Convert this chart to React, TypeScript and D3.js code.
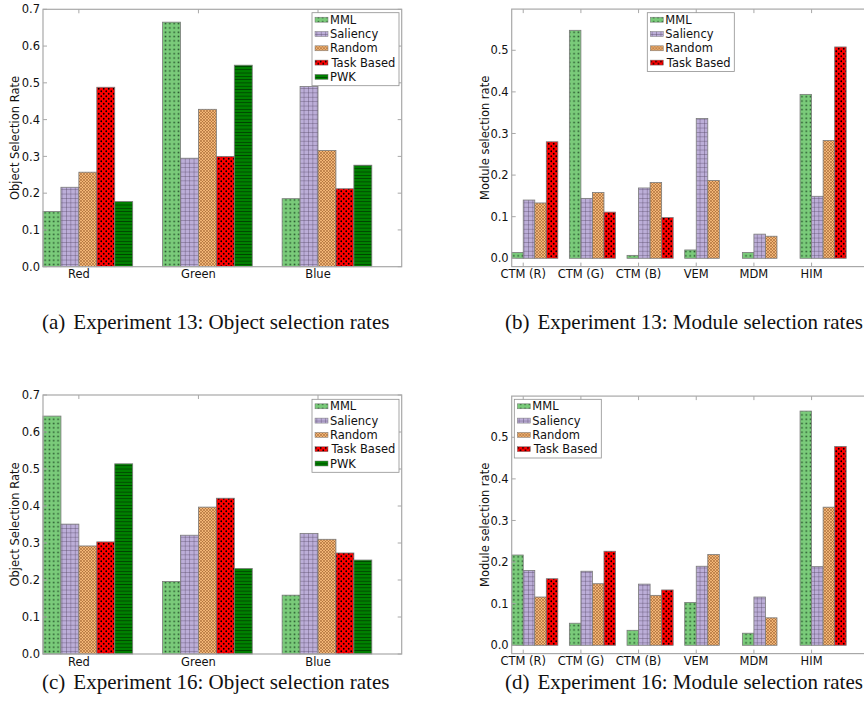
import React from "react";
import * as d3 from "d3";

// ---- categories ----
const colourGroups = ["Red", "Green", "Blue"];
const moduleGroups = ["CTM (R)", "CTM (G)", "CTM (B)", "VEM", "MDM", "HIM", ""];
const objectSeries = ["MML", "Saliency", "Random", "Task Based", "PWK"];
const moduleSeries = ["MML", "Saliency", "Random", "Task Based"];

// ---- Experiment 13: object selection rates ----
const exp13ObjMML = [0.150, 0.665, 0.185];
const exp13ObjSaliency = [0.216, 0.295, 0.490];
const exp13ObjRandom = [0.257, 0.428, 0.316];
const exp13ObjTask = [0.488, 0.300, 0.212];
const exp13ObjPWK = [0.177, 0.548, 0.276];

// ---- Experiment 13: module selection rates ----
const exp13ModMML = [0.014, 0.548, 0.007, 0.020, 0.014, 0.394, 0];
const exp13ModSaliency = [0.140, 0.144, 0.169, 0.336, 0.058, 0.149, 0];
const exp13ModRandom = [0.133, 0.158, 0.182, 0.187, 0.053, 0.283, 0];
const exp13ModTask = [0.280, 0.111, 0.098, 0, 0, 0.508, 0];

// ---- Experiment 16: object selection rates ----
const exp16ObjMML = [0.643, 0.196, 0.159];
const exp16ObjSaliency = [0.351, 0.321, 0.326];
const exp16ObjRandom = [0.292, 0.397, 0.310];
const exp16ObjTask = [0.303, 0.421, 0.273];
const exp16ObjPWK = [0.514, 0.231, 0.254];

// ---- Experiment 16: module selection rates ----
const exp16ModMML = [0.217, 0.053, 0.036, 0.103, 0.029, 0.563, 0];
const exp16ModSaliency = [0.180, 0.178, 0.147, 0.190, 0.116, 0.189, 0];
const exp16ModRandom = [0.116, 0.148, 0.120, 0.218, 0.066, 0.332, 0];
const exp16ModTask = [0.160, 0.226, 0.133, 0, 0, 0.478, 0];

// ---- tick values ----
const objectTicks = [0, 0.1, 0.2, 0.3, 0.4, 0.5, 0.6, 0.7];
const moduleTicks = [0, 0.1, 0.2, 0.3, 0.4, 0.5];

const patternIds = ["patMML", "patSal", "patRand", "patTask", "patPWK"];

const SANS = "'DejaVu Sans', sans-serif";
const SERIF = "'Liberation Serif', 'Times New Roman', serif";
const SPINE = "#a8a8a8";
const EDGE = "#7a7a7a";
const FS = 11.5;

function Patterns() {
  return (
    <defs>
      <pattern id="patMML" patternUnits="userSpaceOnUse" width={4.3} height={4.3}>
        <rect width={4.3} height={4.3} fill="#7acb7a" />
        <rect x={1.4} y={1.4} width={1.5} height={1.5} fill="#24502a" />
      </pattern>
      <pattern id="patSal" patternUnits="userSpaceOnUse" width={4.4} height={4.4}>
        <rect width={4.4} height={4.4} fill="#bcaed8" />
        <path d="M0,0 H4.4 M0,0 V4.4" stroke="#4e4260" strokeWidth={0.7} />
      </pattern>
      <pattern id="patRand" patternUnits="userSpaceOnUse" width={3} height={3}>
        <rect width={3} height={3} fill="#f2b677" />
        <path d="M0,0 L3,3 M3,0 L0,3" stroke="#9c5e2c" strokeWidth={0.55} />
      </pattern>
      <pattern id="patTask" patternUnits="userSpaceOnUse" width={5} height={5}>
        <rect width={5} height={5} fill="#ff0000" />
        <circle cx={1.25} cy={1.25} r={0.9} fill="#000" />
        <circle cx={3.75} cy={3.75} r={0.9} fill="#000" />
      </pattern>
      <pattern id="patPWK" patternUnits="userSpaceOnUse" width={4} height={3.3}>
        <rect width={4} height={3.3} fill="#008000" />
        <path d="M0,0.4 H4" stroke="#003800" strokeWidth={0.8} />
      </pattern>
    </defs>
  );
}

type PanelProps = {
  cats: string[];
  names: string[];
  values: number[][];
  xRange: [number, number];
  xMax: number;
  yRange: [number, number];
  yDomain: [number, number];
  barW: number;
  tickOff: number;
  yTicks: number[];
  yLabel: string;
  yLabelX: number;
  legendBox: { x: number; y: number; w: number };
  caption: string;
  captionTag: string;
  captionX: number;
  captionY: number;
};

function Panel(p: PanelProps) {
  const x = d3.scaleLinear().domain([0, p.xMax]).range(p.xRange);
  const y = d3.scaleLinear().domain(p.yDomain).range(p.yRange);
  const fmt = d3.format(".1f");
  const bw = x(p.barW) - x(0);
  const [left, right] = p.xRange;
  const [bottom, top] = p.yRange;
  const tickLen = 4;
  const rowH = 14.3;
  const legH = p.names.length * rowH + 1.5;
  const yMid = (top + bottom) / 2;

  return (
    <g>
      {/* bars */}
      {p.values.map((vals, j) =>
        vals.map((v, i) => {
          const x0 = x(i + j * p.barW);
          const yv = y(Math.max(v, 0));
          const h = Math.abs(y(0) - y(v));
          return (
            <rect
              key={`${j}-${i}`}
              x={x0}
              y={yv}
              width={bw}
              height={h}
              fill={`url(#${patternIds[j]})`}
              stroke={EDGE}
              strokeWidth={0.8}
            />
          );
        })
      )}

      {/* frame */}
      <rect x={left} y={top} width={right - left} height={bottom - top} fill="none" stroke={SPINE} strokeWidth={1.2} />

      {/* y ticks */}
      {p.yTicks.map((t) => (
        <g key={`yt${t}`}>
          <line x1={left} x2={left + tickLen} y1={y(t)} y2={y(t)} stroke={SPINE} />
          <line x1={right} x2={right - tickLen} y1={y(t)} y2={y(t)} stroke={SPINE} />
          <text x={left - 3} y={y(t)} dy="0.36em" textAnchor="end" fontFamily={SANS} fontSize={FS} fill="#111">
            {fmt(t)}
          </text>
        </g>
      ))}

      {/* x ticks */}
      {p.cats.map((c, i) => (
        <g key={`xt${i}`}>
          <line x1={x(i + p.tickOff)} x2={x(i + p.tickOff)} y1={bottom} y2={bottom - tickLen} stroke={SPINE} />
          <line x1={x(i + p.tickOff)} x2={x(i + p.tickOff)} y1={top} y2={top + tickLen} stroke={SPINE} />
          <text x={x(i + p.tickOff)} y={bottom + 11.5} textAnchor="middle" fontFamily={SANS} fontSize={FS} fill="#111">
            {c}
          </text>
        </g>
      ))}

      {/* y label */}
      <text
        transform={`translate(${p.yLabelX},${yMid}) rotate(-90)`}
        textAnchor="middle"
        fontFamily={SANS}
        fontSize={FS}
        fill="#111"
      >
        {p.yLabel}
      </text>

      {/* legend */}
      <g transform={`translate(${p.legendBox.x},${p.legendBox.y})`}>
        <rect width={p.legendBox.w} height={legH} fill="#fff" stroke="#909090" strokeWidth={0.8} />
        {p.names.map((n, j) => (
          <g key={n} transform={`translate(0,${7 + j * rowH})`}>
            <rect x={3} y={-2.5} width={13} height={5} fill={`url(#${patternIds[j]})`} stroke={EDGE} strokeWidth={0.5} />
            <text x={n === "Task Based" ? 19.5 : 18} y={0} dy="0.36em" fontFamily={SANS} fontSize={FS} fill="#111">
              {n}
            </text>
          </g>
        ))}
      </g>

      {/* caption */}
      <text x={p.captionX} y={p.captionY} fontFamily={SERIF} fontSize={21} fill="#111">
        <tspan>{p.captionTag}</tspan>
        <tspan dx={8}>{p.caption}</tspan>
      </text>
    </g>
  );
}

export default function App() {
  const objLeft: [number, number] = [43, 401.7];
  const modLeft: [number, number] = [511.7, 511.7 + 7 * 57.67];

  return (
    <svg
      width={864}
      height={724}
      viewBox="0 0 864 724"
      style={{ position: "absolute", left: 0, top: 0, background: "#fff" }}
    >
      <Patterns />
      <Panel
        cats={colourGroups}
        names={objectSeries}
        values={[exp13ObjMML, exp13ObjSaliency, exp13ObjRandom, exp13ObjTask, exp13ObjPWK]}
        xRange={objLeft}
        xMax={3}
        yRange={[266.7, 9.3]}
        yDomain={[0, 0.7]}
        barW={0.15}
        tickOff={0.3}
        yTicks={objectTicks}
        yLabel="Object Selection Rate"
        yLabelX={19}
        legendBox={{ x: 312, y: 12.7, w: 87 }}
        captionTag="(a)"
        caption="Experiment 13: Object selection rates"
        captionX={42}
        captionY={329}
      />
      <Panel
        cats={moduleGroups}
        names={moduleSeries}
        values={[exp13ModMML, exp13ModSaliency, exp13ModRandom, exp13ModTask]}
        xRange={modLeft}
        xMax={7}
        yRange={[266.6, 9.1]}
        yDomain={[-0.02, 0.599]}
        barW={0.2}
        tickOff={0.2}
        yTicks={moduleTicks}
        yLabel="Module selection rate"
        yLabelX={489}
        legendBox={{ x: 647.3, y: 12.7, w: 87 }}
        captionTag="(b)"
        caption="Experiment 13: Module selection rates"
        captionX={505}
        captionY={329}
      />
      <Panel
        cats={colourGroups}
        names={objectSeries}
        values={[exp16ObjMML, exp16ObjSaliency, exp16ObjRandom, exp16ObjTask, exp16ObjPWK]}
        xRange={objLeft}
        xMax={3}
        yRange={[654, 395]}
        yDomain={[0, 0.7]}
        barW={0.15}
        tickOff={0.3}
        yTicks={objectTicks}
        yLabel="Object Selection Rate"
        yLabelX={19}
        legendBox={{ x: 312, y: 399.3, w: 87 }}
        captionTag="(c)"
        caption="Experiment 16: Object selection rates"
        captionX={42}
        captionY={689}
      />
      <Panel
        cats={moduleGroups}
        names={moduleSeries}
        values={[exp16ModMML, exp16ModSaliency, exp16ModRandom, exp16ModTask]}
        xRange={modLeft}
        xMax={7}
        yRange={[653.6, 396.1]}
        yDomain={[-0.02, 0.599]}
        barW={0.2}
        tickOff={0.2}
        yTicks={moduleTicks}
        yLabel="Module selection rate"
        yLabelX={489}
        legendBox={{ x: 514.3, y: 399.3, w: 87 }}
        captionTag="(d)"
        caption="Experiment 16: Module selection rates"
        captionX={505}
        captionY={689}
      />
    </svg>
  );
}
